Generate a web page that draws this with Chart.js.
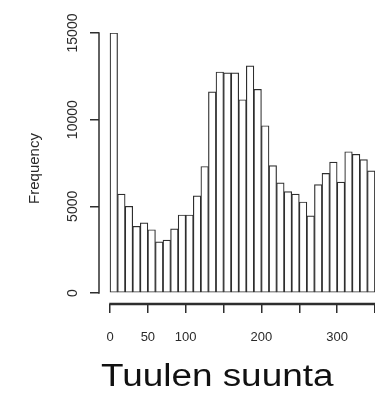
<!DOCTYPE html>
<html>
<head>
<meta charset="utf-8">
<script src="https://cdn.jsdelivr.net/npm/chart.js@4/dist/chart.umd.min.js"></script>
<style>
  html, body { margin: 0; padding: 0; background: #fff; overflow: hidden; }
  #wrap { position: relative; width: 375px; height: 396px; overflow: hidden; }
  #xtitle {
    position: absolute; left: 101px; top: 360px;
    font-family: "Liberation Sans", Arial, sans-serif; font-size: 31px; line-height: 1;
    color: #111; white-space: nowrap;
    transform: scaleX(1.19); transform-origin: 0 0;
  }
</style>
</head>
<body>
<div id="wrap">
  <canvas id="hist" width="400" height="396"></canvas>
  <div id="xtitle">Tuulen suunta</div>
</div>
<script>
// wind direction bins (start of each 10 degree bin)
const binWidth = 10
const bins = [0, 10, 20, 30, 40, 50, 60, 70, 80, 90, 100, 110, 120, 130, 140, 150, 160,
  170, 180, 190, 200, 210, 220, 230, 240, 250, 260, 270, 280, 290, 300, 310, 320, 330, 340]
const counts = [15000, 5700, 5000, 3850, 4050, 3650, 2950, 3050, 3700, 4500, 4500, 5600, 7300,
  11600, 12750, 12700, 12700, 11150, 13100, 11750, 9650, 7350, 6350, 5850, 5700, 5250, 4450,
  6250, 6900, 7550, 6400, 8150, 8000, 7700, 7050]

const xTicks = [0, 50, 100, 150, 200, 250, 300, 350]
const xTickLabels = ['0', '50', '100', '', '200', '', '300', '']
const yTicks = [0, 5000, 10000, 15000]
const yTickLabels = ['0', '5000', '10000', '15000']

const lineColor = '#2e2e2e'
const textColor = '#2a2a2a'

// R style axes: lines only from first to last tick
const axisLines = {
    id: 'axisLines',
    afterDatasetsDraw(chart) {
        const { ctx, chartArea, scales } = chart
        const x = scales.x, y = scales.y
        ctx.save()
        ctx.strokeStyle = lineColor
        ctx.lineWidth = 1.5
        ctx.beginPath()
        ctx.moveTo(chartArea.left, y.getPixelForValue(yTicks[0]) + 0.75)
        ctx.lineTo(chartArea.left, y.getPixelForValue(yTicks[yTicks.length - 1]) - 0.75)
        ctx.stroke()
        ctx.lineWidth = 2.5
        ctx.beginPath()
        ctx.moveTo(x.getPixelForValue(xTicks[0]) - 0.75, chartArea.bottom)
        ctx.lineTo(x.getPixelForValue(xTicks[xTicks.length - 1]) + 0.75, chartArea.bottom)
        ctx.stroke()
        ctx.restore()
    }
}

const data = {
    datasets: [{
        label: 'Frequency',
        data: bins.map((b, i) => ({ x: b + binWidth / 2, y: counts[i] })),
        backgroundColor: '#ffffff',
        borderColor: lineColor,
        borderWidth: 1.2,
        borderSkipped: false,
        barPercentage: 1,
        categoryPercentage: 1
    }]
}

const config = {
    type: 'bar',
    data: data,
    plugins: [axisLines],
    options: {
        responsive: false,
        animation: false,
        layout: { padding: { top: 33, left: 0, right: 0, bottom: 0 } },
        plugins: { legend: { display: false }, tooltip: { enabled: false } },
        scales: {
            x: {
                type: 'linear',
                offset: false,
                min: -14.53,
                max: 383,
                afterBuildTicks: function (scale) {
                    scale.ticks = xTicks.map(v => ({ value: v }))
                },
                afterFit: function (scale) { scale.height = 92 },
                border: { display: false },
                grid: {
                    offset: false,
                    drawOnChartArea: false,
                    drawTicks: true,
                    tickLength: 9,
                    color: lineColor,
                    lineWidth: 1.5
                },
                ticks: {
                    autoSkip: false,
                    maxRotation: 0,
                    padding: 17,
                    color: textColor,
                    font: { family: 'Liberation Sans', size: 13 },
                    callback: function (value) {
                        const i = xTicks.indexOf(value)
                        return i >= 0 ? xTickLabels[i] : ''
                    }
                }
            },
            y: {
                min: -634.6,
                max: 15000,
                afterBuildTicks: function (scale) {
                    scale.ticks = yTicks.map(v => ({ value: v }))
                },
                afterFit: function (scale) { scale.width = 99 },
                border: { display: false },
                grid: {
                    drawOnChartArea: false,
                    drawTicks: true,
                    tickLength: 9,
                    color: lineColor,
                    lineWidth: 1.5
                },
                ticks: {
                    minRotation: 90,
                    maxRotation: 90,
                    crossAlign: 'center',
                    padding: -3,
                    color: textColor,
                    font: { family: 'Liberation Sans', size: 14 },
                    callback: function (value) {
                        const i = yTicks.indexOf(value)
                        return i >= 0 ? yTickLabels[i] : ''
                    }
                }
            ,
                title: {
                    display: true,
                    text: 'Frequency',
                    color: textColor,
                    font: { family: 'Liberation Sans', size: 15 },
                    padding: { top: 26, bottom: 0 }
                }
            }
        }
    }
}

const histChart = new Chart(document.getElementById('hist'), config)
</script>
</body>
</html>
